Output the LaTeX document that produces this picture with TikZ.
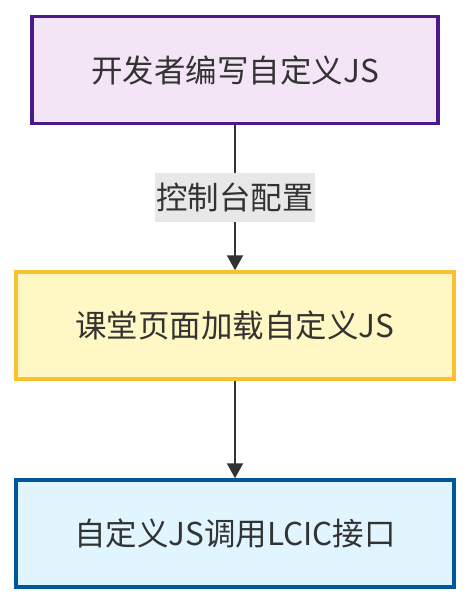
\documentclass[tikz,border=0pt]{standalone}
\usepackage{fontspec}
\setmainfont{Noto Sans CJK SC}
\usetikzlibrary{arrows.meta}
\definecolor{txt}{HTML}{333333}
\definecolor{pfill}{HTML}{F3E5F5}
\definecolor{pdraw}{HTML}{4A1A8C}
\definecolor{yfill}{HTML}{FFF8C4}
\definecolor{ydraw}{HTML}{FBC02D}
\definecolor{bfill}{HTML}{E1F5FE}
\definecolor{bdraw}{HTML}{01579B}
\definecolor{lbl}{HTML}{E8E8E8}
\tikzset{
  box/.style={draw, line width=3.5pt, minimum height=107pt, inner sep=0pt,
    text=txt, font=\fontsize{31.5}{36}\selectfont},
  flow/.style={draw=txt, line width=2pt, -{Triangle[length=15pt,width=16pt]}},
  elabel/.style={fill=lbl, text=txt, inner sep=0pt, minimum width=160pt,
    minimum height=49pt, font=\fontsize{31.5}{36}\selectfont}
}
\begin{document}
\begin{tikzpicture}[x=1pt,y=-1pt]
\useasboundingbox (0,0) rectangle (470,604);
\node[box, fill=pfill, draw=pdraw, minimum width=406pt] (a) at (235,70) {开发者编写自定义JS};
\node[box, fill=yfill, draw=ydraw, minimum width=438pt] (b) at (235,325.5) {课堂页面加载自定义JS};
\node[box, fill=bfill, draw=bdraw, minimum width=438pt] (c) at (235,533.5) {自定义JS调用LCIC接口};
\draw[flow] (a.south) -- (b.north);
\node[elabel] (l) at (235,197.5) {控制台配置};
\draw[flow] (b.south) -- (c.north);
\end{tikzpicture}
\end{document}
